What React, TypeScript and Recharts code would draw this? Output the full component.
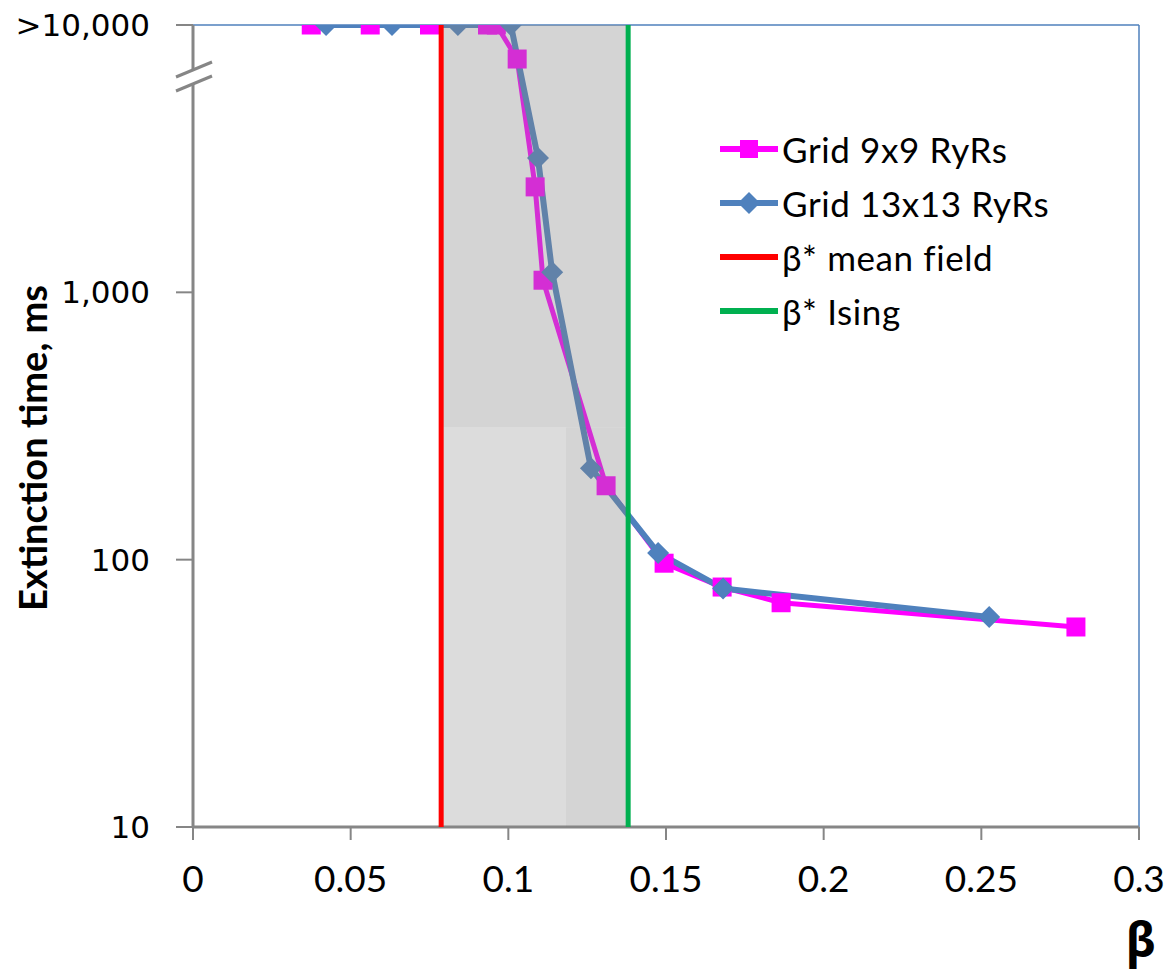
import React from 'react';
import { LineChart, Line, XAxis, YAxis, ReferenceLine, ReferenceArea } from 'recharts';

const X_TICKS = [0, 0.05, 0.1, 0.15, 0.2, 0.25, 0.3];
const Y_TICKS = [10, 100, 1000, 10000];

const GRID9_BETA = [0.0375, 0.0562, 0.075, 0.0934, 0.0962, 0.1028, 0.1085, 0.111, 0.131, 0.1494, 0.1678, 0.1865, 0.28];
const GRID9_TIME = [10000, 10000, 10000, 10000, 10000, 7460, 2480, 1110, 189, 97, 79, 69, 56];

const GRID13_BETA = [0.0422, 0.0631, 0.084, 0.1008, 0.1094, 0.1139, 0.1262, 0.1475, 0.1681, 0.2525];
const GRID13_TIME = [10000, 10000, 10000, 10000, 3180, 1190, 220, 106, 78, 61];

const BETA_MEAN_FIELD = 0.0787;
const BETA_ISING = 0.138;
const LIGHT_BAND_RIGHT = 0.1183;
const LIGHT_BAND_TOP = 313;

const LEGEND_ITEMS = [
  { label: 'Grid 9x9 RyRs', color: '#FF00FF', marker: 'square' },
  { label: 'Grid 13x13 RyRs', color: '#4F81BD', marker: 'diamond' },
  { label: 'β* mean field', color: '#FF0000', marker: 'none' },
  { label: 'β* Ising', color: '#00B050', marker: 'none' },
];

const grid9 = GRID9_BETA.map((b, i) => ({ beta: b, time: GRID9_TIME[i] }));
const grid13 = GRID13_BETA.map((b, i) => ({ beta: b, time: GRID13_TIME[i] }));

const FONT = "Lato, 'Noto Sans', sans-serif";
const AXIS_GRAY = '#868686';

const SquareDot = (props: any) => {
  const { cx, cy } = props;
  if (cx == null || cy == null) return null;
  return <rect x={cx - 9.5} y={cy - 9.5} width={19} height={19} fill="#FF00FF" />;
};

const DiamondDot = (props: any) => {
  const { cx, cy } = props;
  if (cx == null || cy == null) return null;
  const r = 11;
  return <polygon points={`${cx},${cy - r} ${cx + r},${cy} ${cx},${cy + r} ${cx - r},${cy}`} fill="#4F81BD" />;
};

const yTickFormat = (v: number) => (v === 10000 ? '>10,000' : v.toLocaleString('en-US'));

// legend drawn as an overlay so the chart does not reserve room for it
const LegendBox = () => (
  <div style={{ position: 'absolute', left: 720, top: 122, fontFamily: FONT, fontSize: 35, letterSpacing: 0.6, color: '#000' }}>
    {LEGEND_ITEMS.map((item) => (
      <div key={item.label} style={{ display: 'flex', alignItems: 'center', height: 54 }}>
        <svg width={58} height={54}>
          <line x1={1} y1={27} x2={57} y2={27} stroke={item.color} strokeWidth={6} strokeLinecap="round" />
          {item.marker === 'square' && <rect x={20} y={18} width={18} height={18} fill={item.color} />}
          {item.marker === 'diamond' && <polygon points="29,16 40,27 29,38 18,27" fill={item.color} />}
        </svg>
        <span style={{ marginLeft: 4, lineHeight: '54px', whiteSpace: 'nowrap' }}>{item.label}</span>
      </div>
    ))}
  </div>
);

const YLabel = (props: any) => {
  const { viewBox } = props;
  const x = viewBox.x + 32;
  const y = viewBox.y + viewBox.height / 2 + 22;
  return (
    <text x={x} y={y} transform={`rotate(-90, ${x}, ${y})`} textAnchor="middle" dominantBaseline="central"
      style={{ fontFamily: FONT, fontWeight: 700, fontSize: 38, fill: '#000' }}>
      Extinction time, ms
    </text>
  );
};

const XLabel = (props: any) => {
  const { viewBox } = props;
  return (
    <text x={viewBox.x + viewBox.width + 2} y={viewBox.y + 130} textAnchor="middle"
      style={{ fontFamily: "'Noto Sans', 'DejaVu Sans', sans-serif", fontWeight: 700, fontSize: 48, fill: '#000' }}>
      β
    </text>
  );
};

const App: React.FC = () => {
  return (
    <div style={{ position: 'absolute', left: 0, top: 0, width: 1170, height: 974, background: '#fff' }}>
      <LineChart width={1170} height={974} margin={{ top: 25, right: 31, left: 0, bottom: 0 }}>
        <XAxis
          dataKey="beta"
          type="number"
          domain={[0, 0.3]}
          ticks={X_TICKS}
          allowDataOverflow
          height={147}
          axisLine={{ stroke: AXIS_GRAY, strokeWidth: 3 }}
          tickLine={{ stroke: AXIS_GRAY, strokeWidth: 2 }}
          tickSize={13}
          tickMargin={26}
          tick={{ fontFamily: FONT, fontSize: 37, fill: '#000' }}
          label={<XLabel />}
        />
        <YAxis
          dataKey="time"
          type="number"
          scale="log"
          domain={[10, 10000]}
          ticks={Y_TICKS}
          allowDataOverflow
          width={193}
          tickFormatter={yTickFormat}
          axisLine={{ stroke: AXIS_GRAY, strokeWidth: 3 }}
          tickLine={{ stroke: AXIS_GRAY, strokeWidth: 2 }}
          tickSize={17}
          tickMargin={26}
          tick={{ fontFamily: "'DejaVu Sans', sans-serif", fontSize: 31, fill: '#000' }}
          label={<YLabel />}
        />
        <ReferenceLine y={10000} stroke="#4F81BD" strokeWidth={1.5} />
        <ReferenceLine x={0.3} stroke="#4F81BD" strokeWidth={1.5} />
        <Line data={grid9} dataKey="time" type="linear" stroke="#FF00FF" strokeWidth={5}
          dot={<SquareDot />} activeDot={false} isAnimationActive={false} />
        <Line data={grid13} dataKey="time" type="linear" stroke="#4F81BD" strokeWidth={6}
          dot={<DiamondDot />} activeDot={false} isAnimationActive={false} />
        <ReferenceArea x1={BETA_MEAN_FIELD} x2={BETA_ISING} y1={LIGHT_BAND_TOP} y2={10000}
          fill="#858585" fillOpacity={0.35} stroke="none" ifOverflow="hidden" zIndex={700} />
        <ReferenceArea x1={LIGHT_BAND_RIGHT} x2={BETA_ISING} y1={10} y2={LIGHT_BAND_TOP}
          fill="#858585" fillOpacity={0.35} stroke="none" ifOverflow="hidden" zIndex={700} />
        <ReferenceArea x1={BETA_MEAN_FIELD} x2={LIGHT_BAND_RIGHT} y1={10} y2={LIGHT_BAND_TOP}
          fill="#858585" fillOpacity={0.29} stroke="none" ifOverflow="hidden" zIndex={700} />
        <ReferenceLine x={BETA_MEAN_FIELD} stroke="#FF0000" strokeWidth={5} zIndex={800} />
        <ReferenceLine x={BETA_ISING} stroke="#00B050" strokeWidth={5} zIndex={800} />
      </LineChart>
      <LegendBox />
      <svg width={1170} height={974} style={{ position: 'absolute', left: 0, top: 0, pointerEvents: 'none' }}>
        <polygon points="170,79 214,61 214,75 170,93" fill="#fff" />
        <line x1={176} y1={77} x2={212} y2={62} stroke={AXIS_GRAY} strokeWidth={3} />
        <line x1={176} y1={91} x2={212} y2={76} stroke={AXIS_GRAY} strokeWidth={3} />
      </svg>
    </div>
  );
};

export default App;
